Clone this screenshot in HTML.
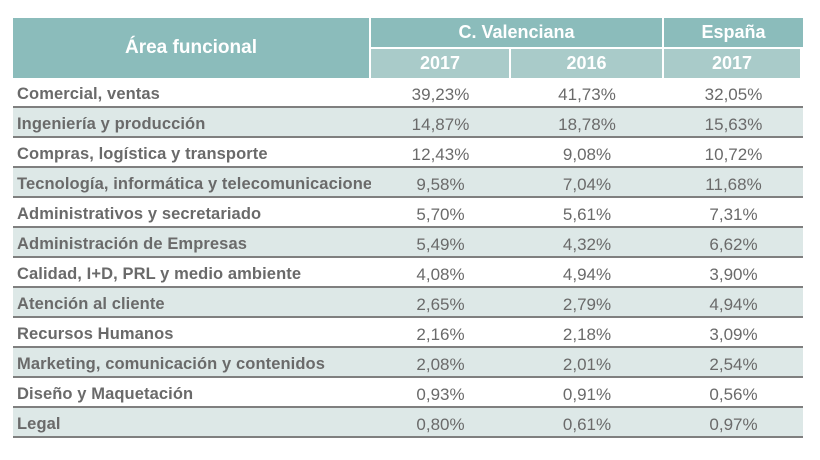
<!DOCTYPE html>
<html><head><meta charset="utf-8"><style>
body{margin:0;width:820px;height:460px;background:#fff;font-family:"Liberation Sans",sans-serif;position:relative;overflow:hidden}
.h{position:absolute;background:#8bbcbb;color:#fff;font-weight:bold;font-size:18px;display:flex;align-items:center;justify-content:center}
.s{background:#a9cbc9}
.r{position:absolute;left:13px;width:790px;height:28px;border-bottom:2px solid #7f7f7f;color:#6a6a6a;font-size:17px}
.r.a{background:#dde8e7}
.r div{position:absolute;top:7px;white-space:nowrap;overflow:hidden}
.l{left:4px;width:354px;font-weight:bold;font-size:16.5px;letter-spacing:0.1px}
.c1{left:358px;width:139px;text-align:center}
.c2{left:497px;width:154px;text-align:center}
.c3{left:651px;width:139px;text-align:center}
</style></head><body>
<div class="h" style="left:13px;top:18px;width:356px;height:60px;font-size:19px">Área funcional</div>
<div class="h" style="left:371px;top:18px;width:291px;height:29px">C. Valenciana</div>
<div class="h" style="left:664px;top:18px;width:139px;height:29px">España</div>
<div class="h s" style="left:371px;top:49px;width:138px;height:29px">2017</div>
<div class="h s" style="left:511px;top:49px;width:151px;height:29px">2016</div>
<div class="h s" style="left:664px;top:49px;width:136px;height:29px">2017</div>
<div class="r" style="top:78px"><div class="l">Comercial, ventas</div><div class="c1">39,23%</div><div class="c2">41,73%</div><div class="c3">32,05%</div></div>
<div class="r a" style="top:108px"><div class="l">Ingeniería y producción</div><div class="c1">14,87%</div><div class="c2">18,78%</div><div class="c3">15,63%</div></div>
<div class="r" style="top:138px"><div class="l">Compras, logística y transporte</div><div class="c1">12,43%</div><div class="c2">9,08%</div><div class="c3">10,72%</div></div>
<div class="r a" style="top:168px"><div class="l">Tecnología, informática y telecomunicaciones</div><div class="c1">9,58%</div><div class="c2">7,04%</div><div class="c3">11,68%</div></div>
<div class="r" style="top:198px"><div class="l">Administrativos y secretariado</div><div class="c1">5,70%</div><div class="c2">5,61%</div><div class="c3">7,31%</div></div>
<div class="r a" style="top:228px"><div class="l">Administración de Empresas</div><div class="c1">5,49%</div><div class="c2">4,32%</div><div class="c3">6,62%</div></div>
<div class="r" style="top:258px"><div class="l">Calidad, I+D, PRL y medio ambiente</div><div class="c1">4,08%</div><div class="c2">4,94%</div><div class="c3">3,90%</div></div>
<div class="r a" style="top:288px"><div class="l">Atención al cliente</div><div class="c1">2,65%</div><div class="c2">2,79%</div><div class="c3">4,94%</div></div>
<div class="r" style="top:318px"><div class="l">Recursos Humanos</div><div class="c1">2,16%</div><div class="c2">2,18%</div><div class="c3">3,09%</div></div>
<div class="r a" style="top:348px"><div class="l">Marketing, comunicación y contenidos</div><div class="c1">2,08%</div><div class="c2">2,01%</div><div class="c3">2,54%</div></div>
<div class="r" style="top:378px"><div class="l">Diseño y Maquetación</div><div class="c1">0,93%</div><div class="c2">0,91%</div><div class="c3">0,56%</div></div>
<div class="r a" style="top:408px"><div class="l">Legal</div><div class="c1">0,80%</div><div class="c2">0,61%</div><div class="c3">0,97%</div></div>
</body></html>
